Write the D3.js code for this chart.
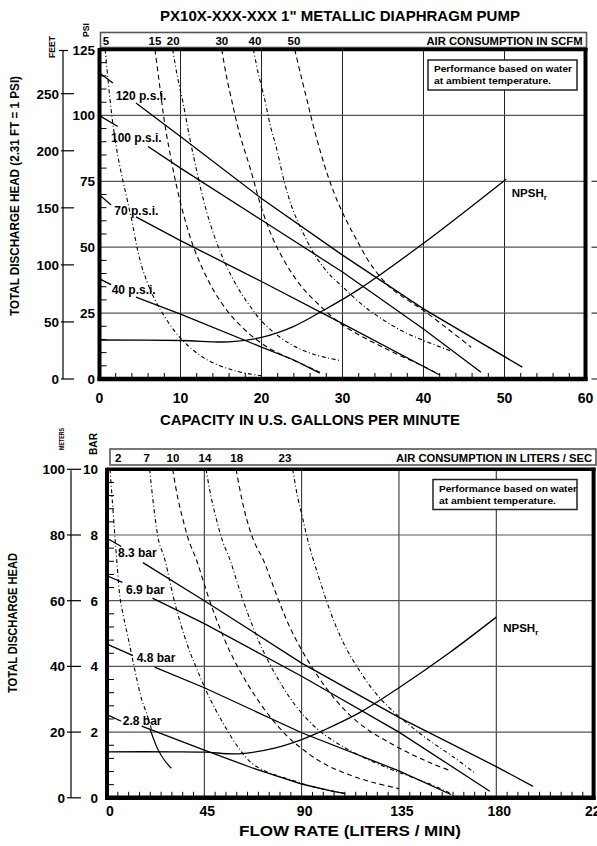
<!DOCTYPE html>
<html><head><meta charset="utf-8">
<script src="https://cdn.jsdelivr.net/npm/d3@7"></script>
<style>
body{margin:0;background:#fff}
text{font-family:"Liberation Sans",Arial,Helvetica,sans-serif;font-weight:bold;fill:#000}
</style>
</head><body>
<svg id="c" width="597" height="846"></svg>
<script>
// ---------------- DATA: top chart (US units) ----------------
const topTitle = 'PX10X-XXX-XXX 1" METALLIC DIAPHRAGM PUMP';
const topXTicks = [0,10,20,30,40,50,60];
const topPsiTicks = [0,25,50,75,100,125];
const topFeetTicks = [0,50,100,150,200,250];
const scfmLabels = [5,15,20,30,40,50];
const scfmLabelAt = [0.8,6.85,9.1,15.1,19.2,24.0];
const psiLabels = ["120 p.s.i.","100 p.s.i.","70 p.s.i.","40 p.s.i."];
const psiLabelAt = [[2.0,105.9],[1.42,89.8],[1.83,62.4],[1.5,32.4]];
const psi120 = [[0,116.1],[1.65,112.3],null,[4.5,104.7],[10,92],[20,68.5],[30,47],[40,26.6],[52.2,4.5]];
const psi100 = [[0,99.9],[2.26,95.8],null,[6,88.2],[10,80],[20,60.3],[30,40.6],[40,19],[47.1,2.6]];
const psi70  = [[0,69.8],[1.44,66],null,[4.5,61.5],[10,52.5],[20,37],[30,21],[42,1.5]];
const psi40  = [[0,38],[1.44,35.8],null,[4.5,31.1],[10,24.6],[20,12.1],[24,7.2],[27.2,2.2]];
const npshTop = [[0,14.8],[10,14.6],[16,14.1],[20,15.8],[24,20],[27.4,25.6],[32,34],[40,51.5],[50.2,75.8]];
const npshTopLabelAt = [50.9,68.9];
const scfm5  = [[0.7,125],[1.1,112],[1.6,98],[2.3,84],[3.2,71],[4,60],[4.7,49],[5.5,40],[7.2,28],[10,15.5],[13,7.8],[16.5,3.3],[20,1.2]];
const scfm15 = [[6.85,125],[7.4,112],[8.0,98],[8.8,84],[9.6,72],[10.5,61],[11.5,51],[12.7,42],[14.2,33],[16,25],[18,18.5],[20.5,12.5],[23.5,7.8],[27.2,2.6]];
const scfm20 = [[9.04,125],[9.6,115],[10.3,105],[11.1,92],[12,79],[13,66],[14.2,54],[15.5,44],[17,35],[18.5,28],[20,22],[22,16.5],[24,12.5],[26.5,9.3],[29.7,7]];
const scfm30 = [[15.1,125],[15.6,116],[16.3,106],[17.3,93],[18.6,80],[20.2,63],[21.9,50],[24.7,36],[27.5,27],[30,20.5],[35,12],[40,4.8],[42,1.6]];
const scfm40 = [[19,125],[19.6,116],[20.4,106],[21.1,96],[21.9,87],[22.8,75],[23.9,64],[25.2,55],[26.8,46],[28.3,40],[30,35],[32.5,28],[35,22.5],[37.5,18],[40,14.6],[43.5,10.5]];
const scfm50 = [[24.1,125],[24.8,116],[25.6,106],[26.4,96],[27.2,87],[28.2,77],[29.3,68],[30.5,60],[31.7,53],[33.6,43],[35.8,35],[38,30],[40,26],[43,19],[45.9,12]];

// ---------------- DATA: bottom chart (metric) ----------------
const botXTicks = [0,45,90,135,180,225];
const botMeterTicks = [0,20,40,60,80,100];
const botBarTicks = [0,2,4,6,8,10];
const lpsLabels = [2,7,10,14,18,23];
const lpsLabelAt = [5.2,18.4,30.5,45.3,60,82.3];
const barLabels = ["8.3 bar","6.9 bar","4.8 bar","2.8 bar"];
const barLabelAt = [[5.1,73.3],[8.8,62.0],[13.7,41.3],[7.3,22.2]];
const bar83 = [[0,79],[6.6,76.5],null,[16.6,71.6],[45,60],[90,41],[135,24.5],[180,9.5],[197,3.5]];
const bar69 = [[0,67.6],[7.1,65.6],null,[21,60.8],[45,53],[90,37],[135,20],[177,2]];
const bar48 = [[0,46.8],[12,43.3],null,[22,39.8],[45,33.5],[90,19.8],[135,8.2],[159,1]];
const bar28 = [[0,25.3],[6.6,23.3],null,[16,21.8],[45,14.5],[67.6,9],[90,4.2],[103,2.2],[110,1.3]];
const npshBot = [[0,14],[30,14],[45,13.9],[61,13.4],[78,15.2],[90,17.7],[100,20.5],[117,26],[135,33.5],[158,44],[180,55]];
const npshBotLabelAt = [183.2,50.5];
const lps2   = [[1.4,100],[2.5,90],[3.7,79],[4.8,70],[6,61],[8,54],[10,48],[12.2,41],[14,35.5],[16,30],[18.4,25.5],[20.5,21]];
const lps2End = [[19.8,21],[21.5,18],[23.5,14.8],[26.5,11.5],[29.7,9]];
const lps7   = [[19.7,100],[21,92],[22.5,84],[24,78],[26.8,72.4],[29,66],[31.5,59],[34.5,52],[38,45],[42,38.5],[47,31],[53,23.5],[60,16],[67,10.5],[75,7.6],[85,5.5],[95,3.4],[104,2.1],[110,1.4]];
const lps10  = [[30.4,100],[32.5,92],[35,85],[38,78],[41.4,72.4],[44.5,66],[48,59],[52,52],[56.5,45],[62,38],[68,31.5],[75,25],[83,19],[90,15],[100,10.5],[112,7],[124,4.5],[135,2.8]];
const lps14  = [[45.8,100],[48,92],[50.5,85],[53.5,78],[56.9,72.4],[60,66],[63.5,59],[67.5,52],[72,45],[77.5,38],[84,31],[91,25],[99,20],[108,16],[118,12.5],[130,9],[142,6],[150,4],[159,1.3]];
const lps18  = [[59.7,100],[62,92],[64.5,85],[68,78],[72.3,72.4],[76,66],[80,59],[84.5,52],[90,45],[96,38.5],[103,32],[111,26],[120,21],[130,17],[140,13.5],[150,10.5],[159,8.2]];
const lps23  = [[85.9,100],[88,92],[90.5,85],[93,78],[95.4,72.4],[98.5,66],[102,59],[106,52],[111,45],[117,38.5],[124,32],[132,26.5],[141,21.5],[150,17],[160,12.5],[170,7.6]];

// ---------------- DRAWING ----------------
const svg = d3.select("#c");
const DASH = "5,3.5", DASHDOT = "4,2.5,1,2.5";

function lineGen(x,y,curve){
  return d3.line().defined(d=>d!==null).x(d=>x(d[0])).y(d=>y(d[1])).curve(curve||d3.curveLinear);
}

function chart(cfg){
  const g = svg.append("g");
  const x = cfg.x, y = cfg.y;
  const [x0,x1] = x.range(), [y0,y1] = y.range();
  g.append("rect").attr("x",cfg.box[0]).attr("y",cfg.box[1]).attr("width",cfg.box[2]).attr("height",cfg.box[3])
    .attr("fill","#fff").attr("stroke","#555").attr("stroke-width",1.6);
  cfg.airLabels.forEach((v,i)=>{
    g.append("text").attr("x",x(cfg.airAt[i])).attr("y",cfg.box[1]+cfg.box[3]-3).attr("text-anchor","middle")
      .attr("font-size",11.5).text(v);
  });
  g.append("text").attr("x",cfg.box[0]+cfg.box[2]-4).attr("y",cfg.box[1]+cfg.box[3]-3).attr("text-anchor","end")
    .attr("font-size",11).attr("textLength",cfg.airTitleLen).attr("lengthAdjust","spacingAndGlyphs").text(cfg.airTitle);
  cfg.xGrid.forEach(v=>g.append("line").attr("x1",x(v)).attr("x2",x(v)).attr("y1",y1).attr("y2",y0).attr("stroke","#222").attr("stroke-width",1));
  cfg.yGrid.forEach(v=>g.append("line").attr("x1",x0).attr("x2",x1).attr("y1",y(v)).attr("y2",y(v)).attr("stroke","#555").attr("stroke-width",1.2));
  cfg.rightTicks.forEach(v=>g.append("line").attr("x1",x1+6).attr("x2",x1+16).attr("y1",y(v)).attr("y2",y(v)).attr("stroke","#333").attr("stroke-width",1.2));
  cfg.minorY.forEach(v=>g.append("line").attr("x1",x0).attr("x2",x0+7).attr("y1",y(v)).attr("y2",y(v)).attr("stroke","#000").attr("stroke-width",1));
  cfg.minorX.forEach(v=>g.append("line").attr("x1",x(v)).attr("x2",x(v)).attr("y1",y0).attr("y2",y0-6).attr("stroke","#000").attr("stroke-width",1));
  const ac = lineGen(x,y,d3.curveCatmullRom.alpha(0.5));
  cfg.air.forEach((c,i)=>{
    g.append("path").attr("d",ac(c)).attr("fill","none").attr("stroke","#000").attr("stroke-width",1.1)
      .attr("stroke-dasharray",cfg.airStyle[i]);
  });
  (cfg.extraSolid||[]).forEach(c=>g.append("path").attr("d",ac(c)).attr("fill","none").attr("stroke","#000").attr("stroke-width",1.2));
  const pl = lineGen(x,y,d3.curveLinear);
  cfg.press.forEach(c=>g.append("path").attr("d",pl(c)).attr("fill","none").attr("stroke","#000").attr("stroke-width",1.3));
  cfg.pressLabels.forEach((t,i)=>g.append("text").attr("x",x(cfg.pressAt[i][0])).attr("y",y(cfg.pressAt[i][1]))
      .attr("font-size",12).text(t));
  g.append("path").attr("d",lineGen(x,y,d3.curveCatmullRom.alpha(0.5))(cfg.npsh)).attr("fill","none").attr("stroke","#000").attr("stroke-width",1.3);
  const nt = g.append("text").attr("x",x(cfg.npshAt[0])).attr("y",y(cfg.npshAt[1])).attr("font-size",11.5);
  nt.append("tspan").text("NPSH");
  nt.append("tspan").attr("font-size",8).attr("dy",3).text("r");
  const nb = cfg.note;
  g.append("rect").attr("x",nb[0]).attr("y",nb[1]).attr("width",nb[2]).attr("height",nb[3]).attr("fill","#fff").attr("stroke","#222").attr("stroke-width",1.5);
  g.append("text").attr("x",nb[0]+6).attr("y",nb[1]+12).attr("font-size",9.3).attr("textLength",138).attr("lengthAdjust","spacingAndGlyphs").text("Performance based on water");
  g.append("text").attr("x",nb[0]+6).attr("y",nb[1]+24).attr("font-size",9.3).attr("textLength",117).attr("lengthAdjust","spacingAndGlyphs").text("at ambient temperature.");
  g.append("line").attr("x1",x0).attr("x2",x1+2).attr("y1",y1).attr("y2",y1).attr("stroke","#000").attr("stroke-width",3.5);
  g.append("line").attr("x1",x0-2).attr("x2",x1+2).attr("y1",y0).attr("y2",y0).attr("stroke","#000").attr("stroke-width",4.5);
  g.append("line").attr("x1",x0).attr("x2",x0).attr("y1",y1-1.5).attr("y2",y0+2).attr("stroke","#000").attr("stroke-width",4);
  g.append("line").attr("x1",x1).attr("x2",x1).attr("y1",y1-1.5).attr("y2",y0+2).attr("stroke","#000").attr("stroke-width",4);
  cfg.xTicks.forEach(v=>g.append("text").attr("x",x(v)+cfg.xLabelShift).attr("y",y0+cfg.xLabelDy).attr("text-anchor","middle").attr("font-size",14).text(v));
  g.append("text").attr("x",cfg.xTitle[1]).attr("y",cfg.xTitle[2]).attr("text-anchor","middle").attr("font-size",15)
    .attr("textLength",cfg.xTitle[3]).attr("lengthAdjust","spacingAndGlyphs").text(cfg.xTitle[0]);
  cfg.innerTicks.forEach((v,i)=>g.append("text").attr("x",cfg.innerX).attr("y",y(cfg.innerPos[i])+5).attr("text-anchor","end").attr("font-size",13.5).text(v));
  g.append("line").attr("x1",cfg.outerAxisX).attr("x2",cfg.outerAxisX).attr("y1",y1+1).attr("y2",y0).attr("stroke","#000").attr("stroke-width",1.2);
  if(cfg.topCap) g.append("line").attr("x1",cfg.outerAxisX-4).attr("x2",cfg.outerAxisX+5).attr("y1",y1+1).attr("y2",y1+1).attr("stroke","#000").attr("stroke-width",1.2);
  cfg.outerTicks.forEach((v,i)=>{
    const yy = y(cfg.outerPos[i]);
    g.append("line").attr("x1",cfg.outerTickX[0]).attr("x2",cfg.outerTickX[1]).attr("y1",yy).attr("y2",yy).attr("stroke","#000").attr("stroke-width",1.2);
    g.append("text").attr("x",cfg.outerTickX[0]-2).attr("y",yy+5).attr("text-anchor","end").attr("font-size",13.5).text(v);
  });
  cfg.rot.forEach(r=>{
    g.append("text").attr("transform",`translate(${r[1]},${r[2]}) rotate(-90)`).attr("text-anchor","middle")
      .attr("font-size",r[3]).attr("textLength",r[4]).attr("lengthAdjust","spacingAndGlyphs").text(r[0]);
  });
}

svg.append("text").attr("x",340).attr("y",21).attr("text-anchor","middle").attr("font-size",15)
  .attr("textLength",360).attr("lengthAdjust","spacingAndGlyphs").text(topTitle);

const xT = d3.scaleLinear().domain([0,60]).range([99.5,585.5]);
const yT = d3.scaleLinear().domain([0,125]).range([379,49.5]);
chart({
  x:xT, y:yT,
  box:[100.5,32.5,486,15],
  airLabels:scfmLabels, airAt:scfmLabelAt, airTitle:"AIR CONSUMPTION IN SCFM", airTitleLen:156,
  xGrid:[10,20,30,40,50], yGrid:[25,50,75,100],
  rightTicks:[0,25,50,75],
  minorY:d3.range(5,125,5).filter(v=>v%25!==0),
  minorX:d3.range(2,60,2).filter(v=>v%10!==0),
  air:[scfm5,scfm15,scfm20,scfm30,scfm40,scfm50],
  airStyle:[DASHDOT,DASH,DASHDOT,DASH,DASHDOT,DASH],
  press:[psi120,psi100,psi70,psi40],
  pressLabels:psiLabels, pressAt:psiLabelAt,
  npsh:npshTop, npshAt:npshTopLabelAt,
  note:[428,60,149,30],
  xTicks:topXTicks, xLabelShift:0, xLabelDy:24,
  xTitle:["CAPACITY IN U.S. GALLONS PER MINUTE",310,425,300],
  innerTicks:topPsiTicks, innerPos:topPsiTicks, innerX:95,
  outerAxisX:63, topCap:true,
  outerTicks:topFeetTicks, outerPos:topFeetTicks.map(f=>f/2.31), outerTickX:[61,74],
  rot:[["PSI",89,30,9.5,14],["FEET",55,47,9,22],["TOTAL DISCHARGE HEAD (2.31 FT = 1 PSI)",18.5,196,12,240]]
});

const xB = d3.scaleLinear().domain([0,225]).range([107,593.6]);
const yB = d3.scaleLinear().domain([0,100]).range([797.8,469.3]);
chart({
  x:xB, y:yB,
  box:[110,449,486,16],
  airLabels:lpsLabels, airAt:lpsLabelAt, airTitle:"AIR CONSUMPTION IN LITERS / SEC", airTitleLen:196,
  xGrid:[45,90,135,180], yGrid:[20,40,60,80],
  rightTicks:[0,20,40,60,80],
  minorY:d3.range(4,100,4).filter(v=>v%20!==0),
  minorX:d3.range(5,225,5).filter(v=>v%45!==0),
  air:[lps2,lps7,lps10,lps14,lps18,lps23],
  airStyle:[DASHDOT,DASHDOT,DASH,DASHDOT,DASH,DASHDOT],
  extraSolid:[lps2End],
  press:[bar83,bar69,bar48,bar28],
  pressLabels:barLabels, pressAt:barLabelAt,
  npsh:npshBot, npshAt:npshBotLabelAt,
  note:[433,479.5,144,30],
  xTicks:botXTicks, xLabelShift:3, xLabelDy:18,
  xTitle:["FLOW RATE (LITERS / MIN)",350,836,222],
  innerTicks:botBarTicks, innerPos:botBarTicks.map(b=>b*10), innerX:98,
  outerAxisX:71, topCap:false,
  outerTicks:botMeterTicks, outerPos:botMeterTicks, outerTickX:[67,81],
  rot:[["BAR",97,444,10,22],["METERS",64,439,6.5,22],["TOTAL DISCHARGE HEAD",17,623,12,140]]
});
</script>
</body></html>
